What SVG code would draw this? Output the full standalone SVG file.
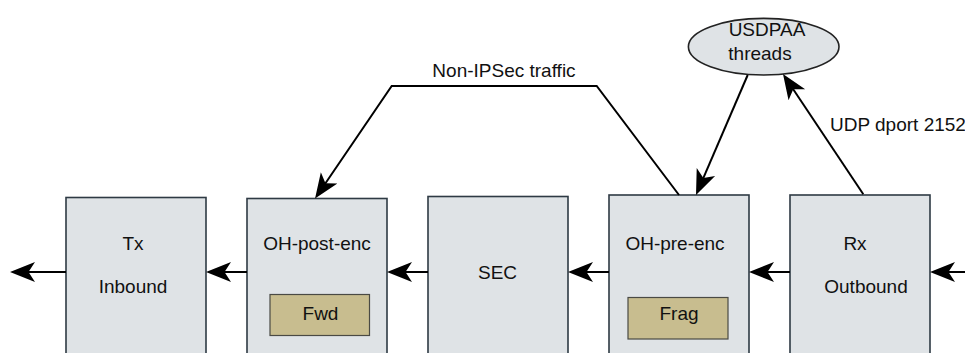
<svg xmlns="http://www.w3.org/2000/svg" width="965" height="353" viewBox="0 0 965 353">
<defs>
<style>
.box{fill:#dfe3e6;stroke:#2e3a44;stroke-width:1.6}
.sub{fill:#c8bd8f;stroke:#4a4a44;stroke-width:1.2}
.t{font-family:"Liberation Sans",Arial,sans-serif;font-size:19px;fill:#111;text-anchor:middle}
.l{font-family:"Liberation Sans",Arial,sans-serif;font-size:19px;fill:#111}
.c{fill:none;stroke:#000;stroke-width:2;marker-end:url(#ah)}
</style>
<marker id="ah" markerUnits="userSpaceOnUse" markerWidth="28" markerHeight="24" viewBox="0 -12 28 24" refX="21" refY="0" orient="auto">
<path d="M25,0 L0,-10 L6.5,0 L0,10 Z" fill="#000"/>
</marker>
</defs>
<rect width="965" height="353" fill="#fff"/>
<g id="tx">
<rect class="box" x="66" y="197.5" width="140" height="170"/>
<text class="t" x="133" y="250">Tx</text>
<text class="t" x="133" y="293">Inbound</text>
</g>
<g id="oh-post-enc">
<rect class="box" x="247" y="198.5" width="140" height="170"/>
<text class="t" x="317" y="250">OH-post-enc</text>
<g id="fwd">
<rect class="sub" x="270" y="294.5" width="99.5" height="41"/>
<text class="t" x="320.5" y="320">Fwd</text>
</g>
</g>
<g id="sec">
<rect class="box" x="428" y="196.5" width="140" height="170"/>
<text class="t" x="497.5" y="279">SEC</text>
</g>
<g id="oh-pre-enc">
<rect class="box" x="609" y="195" width="140" height="170"/>
<text class="t" x="675" y="250">OH-pre-enc</text>
<g id="frag">
<rect class="sub" x="628" y="297.5" width="100" height="41.5"/>
<text class="t" x="679" y="320">Frag</text>
</g>
</g>
<g id="rx">
<rect class="box" x="790" y="195" width="140" height="170"/>
<text class="t" x="855" y="250">Rx</text>
<text class="t" x="866" y="293">Outbound</text>
</g>
<g id="usdpaa">
<ellipse cx="763.7" cy="46.7" rx="75.3" ry="28.3" fill="#dfe3e6" stroke="#222" stroke-width="1.6"/>
<text class="t" x="767" y="36">USDPAA</text>
<text class="t" x="760" y="60">threads</text>
</g>
<g id="connectors">
<path class="c" d="M965,272 H934"/>
<path class="c" d="M790,272 H753"/>
<path class="c" d="M609,272 H572"/>
<path class="c" d="M428,272 H391"/>
<path class="c" d="M247,272 H210"/>
<path class="c" d="M66,272 H14"/>
<path class="c" d="M679,195 L596.7,86 H391.7 L317.3,195.2"/>
<path class="c" d="M747.7,75 L697.6,191.3"/>
<path class="c" d="M863.3,194.3 L785.2,77.3"/>
<text class="t" x="504" y="77">Non-IPSec traffic</text>
<text class="l" x="830" y="131">UDP dport 2152</text>
</g>
</svg>
